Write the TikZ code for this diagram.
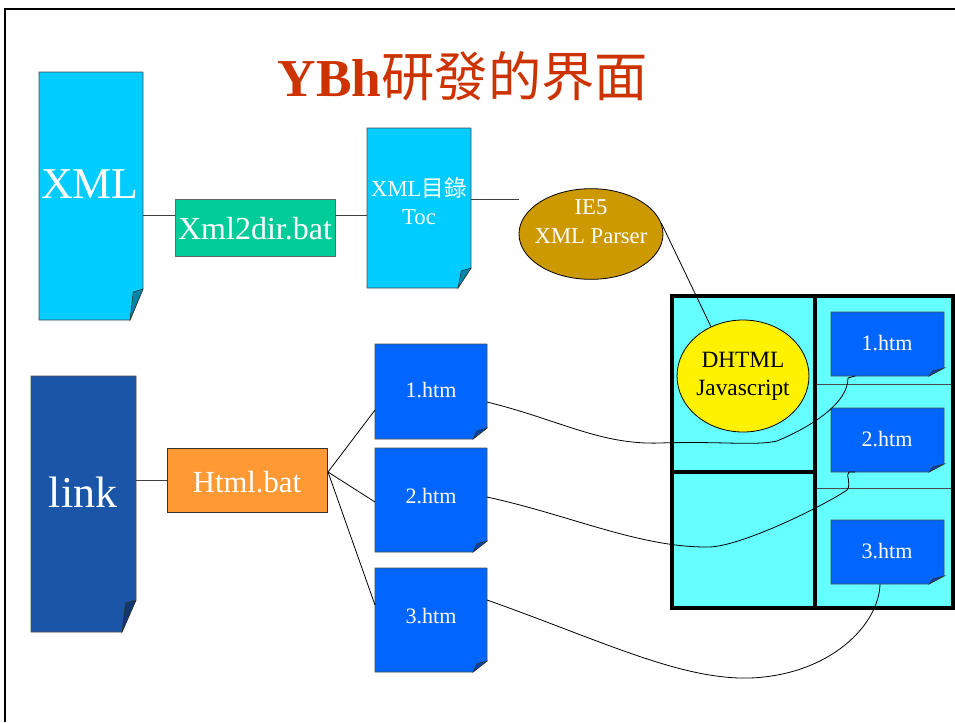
\documentclass[tikz,border=0pt]{standalone}
\usepackage{fontspec}
\setmainfont{Liberation Serif}
\newfontfamily\cjk{Noto Sans CJK TC}
\usetikzlibrary{calc,fit,shapes.geometric,backgrounds}
\definecolor{xmlblue}{HTML}{00CCFF}
\definecolor{xmlgreen}{HTML}{00CC99}
\definecolor{ieorange}{HTML}{CC9900}
\definecolor{linkblue}{HTML}{1A55A8}
\definecolor{batorange}{HTML}{FF9933}
\definecolor{htmblue}{HTML}{0066FF}
\definecolor{panelcyan}{HTML}{66FFFF}
\definecolor{titlered}{HTML}{CC3300}
\newcommand\docshape[4]{% name, colour, fold width, fold height (px)
  \fill[#2, draw=black!70, line width=0.6pt] (#1.north west) -- (#1.north east) -- ($(#1.south east)+(0,-#4)$) -- ($(#1.south east)+(-#3,0)$) -- (#1.south west) -- cycle;
  \fill[#2!65!black, draw=black!80, line width=0.4pt] ($(#1.south east)+(0,-#4)$) -- ($(#1.south east)+(-0.75*#3,-#4+3)$) -- ($(#1.south east)+(-#3,0)$) -- cycle;
}
\tikzset{
  area/.style={inner sep=0pt, outer sep=0pt},
  wtext/.style={text=white, align=center, inner sep=0pt},
  conn/.style={draw=black!75, line width=0.7pt},
  curve/.style={draw=black, line width=0.6pt},
  thickline/.style={line width=2.6pt, line cap=rect},
}
\begin{document}
\begin{tikzpicture}[x=0.75pt, y=-0.75pt]
\useasboundingbox (0,0) rectangle (955,722);
% frame
\draw[line width=2.2pt] (5,722) -- (5,9) -- (955,9);
% title
\node[text=titlered, inner sep=0pt] (title) at (463,76) {\fontsize{40}{48}\selectfont\textbf{YBh}\cjk 研發的界面};

% XML chain
\node[area, fit={(39,72) (143,320)}] (xml) {};
\node[area, fit={(175,199) (335,256)}, fill=xmlgreen, draw=black!60, line width=0.6pt] (x2d) {};
\node[area, fit={(367,128) (471,288)}] (toc) {};
\node[ellipse, fill=ieorange, draw=black, line width=0.6pt, minimum width=108pt, minimum height=68pt, inner sep=0pt] (ie) at (591,234) {};
% link chain
\node[area, fit={(31,376) (136,632)}] (link) {};
\node[area, fit={(167,448) (327,512)}, fill=batorange, draw=black!80, line width=0.6pt] (bat) {};
\node[area, fit={(375,344) (487,439)}] (h1) {};
\node[area, fit={(375,448) (487,552)}] (h2) {};
\node[area, fit={(375,568) (487,672)}] (h3) {};
% panel
\node[area, fit={(672,296) (953,608)}, fill=panelcyan] (panel) {};
\draw[black!70, line width=0.7pt] (815,384) -- (953,384) (815,488) -- (953,488);
\draw[thickline] (815,296) -- (815,608);
\draw[line width=3pt] (672,472) -- (815,472);
\draw[line width=2.4pt] (panel.north west) rectangle (panel.south east);
\node[area, fit={(831,312) (944,376)}] (s1) {};
\node[area, fit={(831,408) (944,472)}] (s2) {};
\node[area, fit={(831,520) (944,584)}] (s3) {};
\node[ellipse, fill=yellow, draw=black, line width=0.6pt, minimum width=96pt, minimum height=84pt, inner sep=0pt, align=center, font=\fontsize{17.5}{21}\selectfont] (dh) at (743,376) {DHTML\\Javascript};

% document shapes
\begin{scope}[on background layer]
\fill[panelcyan] (panel.north west) rectangle (panel.south east);
\end{scope}
\docshape{xml}{xmlblue}{13}{31}
\docshape{toc}{xmlblue}{13}{20}
\docshape{link}{linkblue}{14}{32}
\docshape{h1}{htmblue}{14}{11}
\docshape{h2}{htmblue}{14}{11}
\docshape{h3}{htmblue}{14}{11}
\docshape{s1}{htmblue}{15}{8}
\docshape{s2}{htmblue}{15}{8}
\docshape{s3}{htmblue}{15}{8}

% texts
\node[wtext, font=\fontsize{33}{38}\selectfont] (xmlt) at (90,184) {XML};
\node[wtext, font=\fontsize{24}{28}\selectfont] (x2dt) at (255,229) {Xml2dir.bat};
\node[wtext, font=\fontsize{17}{21}\selectfont] (toct) at (419,201) {XML{\cjk 目錄}\\Toc};
\node[wtext, font=\fontsize{17}{22}\selectfont] (iet) at (591,222) {IE5\\XML Parser};
\node[wtext, font=\fontsize{33}{38}\selectfont] (linkt) at (83,492) {link};
\node[wtext, font=\fontsize{23}{27}\selectfont] (batt) at (247,482) {Html.bat};
\node[wtext, font=\fontsize{16.5}{20}\selectfont] (h1t) at (431,390) {1.htm};
\node[wtext, font=\fontsize{16.5}{20}\selectfont] (h2t) at (431,496) {2.htm};
\node[wtext, font=\fontsize{16.5}{20}\selectfont] (h3t) at (431,616) {3.htm};
\node[wtext, font=\fontsize{16.5}{20}\selectfont] (s1t) at (887,343) {1.htm};
\node[wtext, font=\fontsize{16.5}{20}\selectfont] (s2t) at (887,439) {2.htm};
\node[wtext, font=\fontsize{16.5}{20}\selectfont] (s3t) at (887,551) {3.htm};

% connectors
\draw[conn] (xml.east |- 0,215) -- (x2d.west |- 0,215);
\draw[conn] (x2d.east |- 0,215) -- (toc.west |- 0,215);
\draw[conn] (toc.east |- 0,199) -- (ie.west |- 0,199);
\draw[curve] (ie.9) -- (dh.123);
\draw[conn] (link.east |- 0,480) -- (bat.west |- 0,480);
\coordinate (fan) at (328,472);
\draw[curve] (fan) -- (h1.west |- 0,410);
\draw[curve] (fan) -- (h2.west |- 0,502);
\draw[curve] (fan) -- (h3.west |- 0,605);
% long curves
\draw[curve] (h1.east |- 0,402) .. controls (560,420) and (600,445) .. (660,443)
  .. controls (720,441) and (755,446) .. (777,441)
  .. controls (815,425) and (848,402) .. (848,378) -- (s1.south -| 855,0);
\draw[curve] (h2.east |- 0,497) .. controls (570,515) and (640,548) .. (710,547)
  .. controls (745,545) and (825,505) .. (847,490)
  .. controls (852,484) and (845,474) .. (849,472) -- (s2.south -| 855,0);
\draw[curve] (h3.east |- 0,600) .. controls (600,640) and (680,680) .. (750,678)
  .. controls (830,675) and (879,625) .. (s3.south -| 880,0);
\end{tikzpicture}
\end{document}
